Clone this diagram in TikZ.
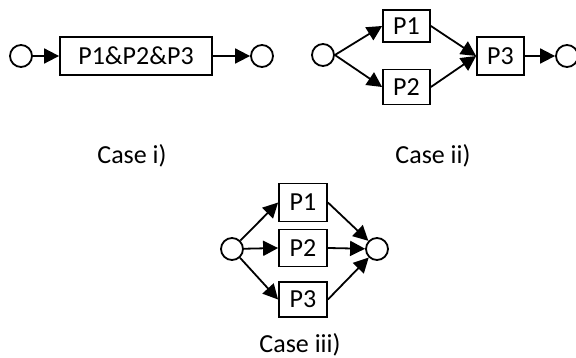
\documentclass[tikz,border=0pt]{standalone}
\usepackage{fontspec}
\setmainfont{Carlito}
\usetikzlibrary{arrows.meta}
\begin{document}
\begin{tikzpicture}[x=1pt,y=-1pt]

\def\lw{1.8pt}
\def\csize{22pt}
\def\tip{Triangle[length=15pt,width=15pt]}

\tikzset{place/.style = {draw, circle, line width=\lw, minimum size=\csize, inner sep=0pt},
         proc/.style = {draw, rectangle, line width=\lw, inner sep=0pt, minimum height=35pt, font=\fontsize{26}{30}\selectfont},
         flow/.style = {line width=\lw, -{\tip}},
         caption/.style = {font=\fontsize{26}{30}\selectfont}}

\useasboundingbox (0,0) rectangle (576,358);

% case i
\node[place] (A1) at (21,56) {};
\node[proc, minimum width=152pt, minimum height=38pt] (AP) at (136,56) {P1\&P2\&P3};
\node[place] (A2) at (262,56) {};
\draw[flow] (A1) -- (AP);
\draw[flow] (AP) -- (A2);
\node[caption] (AC) at (132,156) {Case i)};

% case ii
\node[place] (B1) at (323,55) {};
\node[proc, minimum width=47pt, minimum height=32pt] (BP1) at (406.5,26) {P1};
\node[proc, minimum width=47pt, minimum height=35pt] (BP2) at (406.5,87) {P2};
\node[proc, minimum width=47pt, minimum height=38pt] (BP3) at (500.5,56) {P3};
\node[place] (B2) at (567,56) {};
\draw[flow] (B1.east) -- (BP1.west);
\draw[flow] (B1.east) -- (BP2.west);
\draw[flow] (BP1.east) -- (BP3.west);
\draw[flow] (BP2.east) -- (BP3.west);
\draw[flow] (BP3) -- (B2);
\node[caption] (BC) at (433,156) {Case ii)};

% case iii
\node[place] (C1) at (232,249) {};
\node[proc, minimum width=48pt, minimum height=38pt] (CP1) at (303,202.5) {P1};
\node[proc, minimum width=48pt, minimum height=37pt] (CP2) at (303,248) {P2};
\node[proc, minimum width=48pt, minimum height=35pt] (CP3) at (303,299.5) {P3};
\node[place] (C2) at (377,249) {};
\draw[flow] (C1) -- (CP1.west);
\draw[flow] (C1) -- (CP2.west);
\draw[flow] (C1) -- (CP3.west);
\draw[flow] (CP1.east) -- (C2);
\draw[flow] (CP2.east) -- (C2);
\draw[flow] (CP3.east) -- (C2);
\node[caption] (CC) at (300,345) {Case iii)};

\end{tikzpicture}
\end{document}
